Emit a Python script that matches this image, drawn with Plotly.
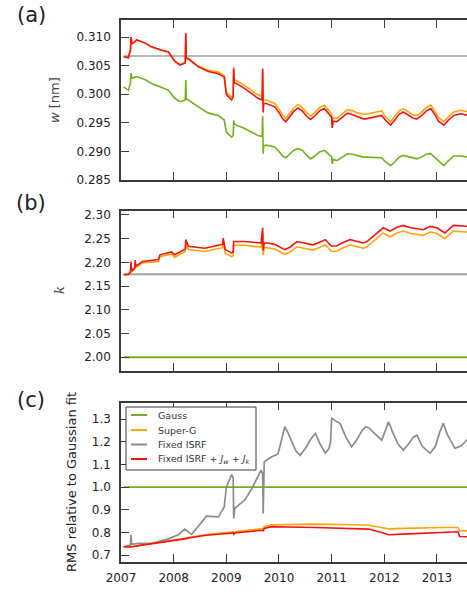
import plotly.graph_objects as go

# ---------------- data ----------------
year_ticks = [2007, 2008, 2009, 2010, 2011, 2012, 2013]

# panel (a): width w [nm]
years_a = [2007.05, 2007.14, 2007.18, 2007.19, 2007.21, 2007.30, 2007.45, 2007.58, 2007.74, 2007.90,
           2008.02, 2008.12, 2008.22, 2008.23, 2008.24, 2008.28, 2008.47, 2008.66, 2008.85, 2008.96,
           2009.00, 2009.10, 2009.13, 2009.14, 2009.15, 2009.19, 2009.35, 2009.60, 2009.68, 2009.69,
           2009.70, 2009.71, 2009.76, 2009.92, 2010.00, 2010.07, 2010.13, 2010.20, 2010.28, 2010.36,
           2010.44, 2010.52, 2010.60, 2010.68, 2010.77, 2010.86, 2010.94, 2011.00, 2011.01, 2011.03,
           2011.10, 2011.20, 2011.30, 2011.40, 2011.50, 2011.60, 2011.65, 2011.95, 2012.02, 2012.12,
           2012.20, 2012.28, 2012.36, 2012.45, 2012.55, 2012.62, 2012.70, 2012.80, 2012.88, 2012.95,
           2013.03, 2013.13, 2013.22, 2013.32, 2013.45, 2013.60]
w_fixed_j = [0.3066, 0.3064, 0.3078, 0.3100, 0.3088, 0.3095, 0.3090, 0.3083, 0.3078, 0.3074,
             0.3058, 0.3051, 0.3055, 0.3107, 0.3063, 0.3062, 0.3048, 0.3040, 0.3036, 0.3030,
             0.3000, 0.2990, 0.2995, 0.3045, 0.3020, 0.3019, 0.3010, 0.2993, 0.2990, 0.3045,
             0.2968, 0.2984, 0.2984, 0.2978, 0.2968, 0.2957, 0.2952, 0.2960, 0.2970, 0.2976,
             0.2971, 0.2962, 0.2956, 0.2962, 0.2971, 0.2975, 0.2966, 0.2960, 0.2941, 0.2953,
             0.2952, 0.2960, 0.2967, 0.2964, 0.2960, 0.2957, 0.2957, 0.2963, 0.2955, 0.2946,
             0.2955, 0.2965, 0.2969, 0.2964, 0.2958, 0.2957, 0.2962, 0.2971, 0.2975, 0.2966,
             0.2953, 0.2946, 0.2955, 0.2963, 0.2966, 0.2963]
w_superg = [0.3066, 0.3064, 0.3078, 0.3100, 0.3088, 0.3095, 0.3090, 0.3083, 0.3078, 0.3074,
            0.3058, 0.3052, 0.3056, 0.3106, 0.3064, 0.3063, 0.3049, 0.3042, 0.3039, 0.3033,
            0.3004, 0.2995, 0.3000, 0.3048, 0.3025, 0.3024, 0.3015, 0.2999, 0.2996, 0.3040,
            0.2975, 0.2990, 0.2990, 0.2984, 0.2974, 0.2963, 0.2958, 0.2966, 0.2976, 0.2982,
            0.2977, 0.2968, 0.2962, 0.2968, 0.2977, 0.2981, 0.2972, 0.2966, 0.2950, 0.2959,
            0.2958, 0.2966, 0.2973, 0.2971, 0.2967, 0.2965, 0.2965, 0.2971, 0.2961, 0.2952,
            0.2961, 0.2971, 0.2975, 0.2970, 0.2964, 0.2963, 0.2968, 0.2977, 0.2981, 0.2972,
            0.2959, 0.2952, 0.2961, 0.2969, 0.2972, 0.2969]
w_gauss = [0.3013, 0.3007, 0.3020, 0.3037, 0.3028, 0.3031, 0.3026, 0.3019, 0.3013, 0.3007,
           0.2993, 0.2987, 0.2990, 0.3025, 0.2992, 0.2990, 0.2978, 0.2967, 0.2963, 0.2955,
           0.2934, 0.2925, 0.2928, 0.2954, 0.2948, 0.2946, 0.2940, 0.2928, 0.2926, 0.2962,
           0.2896, 0.2910, 0.2911, 0.2908, 0.2900, 0.2892, 0.2889, 0.2895, 0.2902, 0.2905,
           0.2902, 0.2894, 0.2887, 0.2892, 0.2899, 0.2902, 0.2896, 0.2891, 0.2878, 0.2886,
           0.2884, 0.2890, 0.2896, 0.2895, 0.2892, 0.2890, 0.2890, 0.2889, 0.2882, 0.2875,
           0.2882, 0.2890, 0.2893, 0.2891, 0.2888, 0.2887, 0.2890, 0.2895, 0.2896, 0.2890,
           0.2883, 0.2875, 0.2884, 0.2892, 0.2892, 0.2890]
w_fixed_years = [2007.05, 2013.60]
w_fixed = [0.3067, 0.3067]

# panel (b): shape parameter k
years_b = [2007.05, 2007.14, 2007.18, 2007.19, 2007.20, 2007.26, 2007.27, 2007.28, 2007.41, 2007.71,
           2007.74, 2007.96, 2008.02, 2008.21, 2008.22, 2008.23, 2008.28, 2008.59, 2008.85, 2008.93,
           2008.94, 2008.98, 2009.10, 2009.13, 2009.14, 2009.35, 2009.66, 2009.69, 2009.70, 2009.72,
           2009.78, 2009.92, 2010.11, 2010.21, 2010.34, 2010.50, 2010.65, 2010.78, 2010.88, 2011.00,
           2011.10, 2011.22, 2011.35, 2011.60, 2011.67, 2011.98, 2012.11, 2012.24, 2012.36, 2012.50,
           2012.74, 2012.87, 2013.00, 2013.15, 2013.31, 2013.60]
k_fixed_j = [2.174, 2.175, 2.180, 2.202, 2.182, 2.188, 2.205, 2.192, 2.202, 2.206,
             2.216, 2.222, 2.216, 2.227, 2.228, 2.248, 2.234, 2.230, 2.237, 2.238,
             2.251, 2.227, 2.220, 2.222, 2.244, 2.244, 2.241, 2.273, 2.225, 2.241,
             2.241, 2.238, 2.227, 2.232, 2.244, 2.241, 2.237, 2.243, 2.248, 2.234,
             2.235, 2.242, 2.248, 2.241, 2.244, 2.273, 2.266, 2.274, 2.278, 2.273,
             2.269, 2.276, 2.273, 2.262, 2.278, 2.276]
k_superg = [2.174, 2.174, 2.178, 2.198, 2.180, 2.186, 2.200, 2.189, 2.199, 2.202,
            2.212, 2.218, 2.211, 2.222, 2.223, 2.240, 2.227, 2.223, 2.230, 2.231,
            2.243, 2.219, 2.212, 2.214, 2.236, 2.236, 2.232, 2.262, 2.216, 2.231,
            2.231, 2.228, 2.217, 2.222, 2.233, 2.230, 2.226, 2.232, 2.237, 2.223,
            2.224, 2.231, 2.237, 2.230, 2.233, 2.262, 2.254, 2.262, 2.266, 2.261,
            2.257, 2.264, 2.261, 2.250, 2.266, 2.264]
k_const_years = [2007.05, 2013.60]
k_fixed = [2.175, 2.175]
k_gauss = [2.0, 2.0]

# panel (c): RMS relative to Gaussian fit
years_c = [2007.05, 2007.18, 2007.19, 2007.20, 2007.33, 2007.58, 2007.90, 2008.09, 2008.21, 2008.34,
           2008.53, 2008.62, 2008.85, 2008.96, 2009.00, 2009.10, 2009.13, 2009.14, 2009.16, 2009.19,
           2009.35, 2009.47, 2009.66, 2009.69, 2009.70, 2009.72, 2009.86, 2009.98, 2010.11, 2010.23,
           2010.40, 2010.69, 2010.88, 2011.00, 2011.16, 2011.38, 2011.65, 2011.70, 2011.95, 2012.08,
           2012.36, 2012.62, 2012.87, 2013.12, 2013.34, 2013.40, 2013.43, 2013.60]
rms_fixed_j = [0.737, 0.735, 0.738, 0.736, 0.742, 0.750, 0.762, 0.768, 0.772, 0.778,
               0.785, 0.788, 0.792, 0.795, 0.796, 0.798, 0.798, 0.792, 0.797, 0.799,
               0.803, 0.806, 0.810, 0.810, 0.806, 0.818, 0.826, 0.826, 0.825, 0.824,
               0.823, 0.822, 0.821, 0.821, 0.820, 0.818, 0.816, 0.815, 0.800, 0.790,
               0.793, 0.795, 0.797, 0.800, 0.803, 0.803, 0.782, 0.781]
rms_superg = [0.737, 0.736, 0.739, 0.737, 0.743, 0.751, 0.763, 0.770, 0.774, 0.780,
              0.788, 0.791, 0.796, 0.799, 0.800, 0.803, 0.803, 0.798, 0.802, 0.804,
              0.809, 0.812, 0.817, 0.817, 0.813, 0.826, 0.834, 0.835, 0.835, 0.836,
              0.836, 0.837, 0.837, 0.836, 0.835, 0.834, 0.833, 0.832, 0.822, 0.816,
              0.818, 0.820, 0.821, 0.822, 0.822, 0.822, 0.808, 0.807]
years_c_fixed = [2007.05, 2007.18, 2007.19, 2007.20, 2007.33, 2007.58, 2007.90, 2008.09, 2008.21, 2008.34,
                 2008.53, 2008.62, 2008.85, 2008.96, 2009.00, 2009.10, 2009.13, 2009.14, 2009.16, 2009.19,
                 2009.35, 2009.47, 2009.66, 2009.69, 2009.70, 2009.72, 2009.86, 2009.98, 2010.04, 2010.11,
                 2010.17, 2010.23, 2010.32, 2010.40, 2010.50, 2010.60, 2010.69, 2010.78, 2010.88, 2010.95,
                 2010.98, 2011.00, 2011.08, 2011.16, 2011.27, 2011.38, 2011.48, 2011.58, 2011.65, 2011.70,
                 2011.95, 2012.02, 2012.08, 2012.16, 2012.26, 2012.36, 2012.46, 2012.55, 2012.62, 2012.72,
                 2012.87, 2012.97, 2013.05, 2013.12, 2013.20, 2013.34, 2013.45, 2013.60]
rms_fixed = [0.737, 0.745, 0.790, 0.748, 0.752, 0.752, 0.772, 0.790, 0.815, 0.792,
             0.845, 0.872, 0.869, 0.913, 1.000, 1.055, 1.040, 0.862, 0.905, 0.913,
             0.943, 0.987, 1.075, 1.060, 0.884, 1.112, 1.134, 1.145, 1.200, 1.266,
             1.240, 1.205, 1.160, 1.140, 1.170, 1.210, 1.237, 1.190, 1.150, 1.170,
             1.200, 1.305, 1.290, 1.281, 1.220, 1.178, 1.210, 1.250, 1.266, 1.262,
             1.207, 1.250, 1.288, 1.240, 1.190, 1.163, 1.190, 1.220, 1.229, 1.180,
             1.149, 1.180, 1.240, 1.281, 1.230, 1.171, 1.180, 1.215]
rms_const_years = [2007.05, 2013.60]
rms_gauss = [1.0, 1.0]

legend_names = ["Gauss", "Super-G", "Fixed ISRF",
                "Fixed ISRF + <i>J<sub>w</sub></i> + <i>J<sub>k</sub></i>"]

# ---------------- styling ----------------
C_GAUSS = "#72b01d"
C_SUPERG = "#ffa50a"
C_FIXED = "#8c8c8c"
C_FIXEDJ = "#f41414"
C_CONST = "#a0a0a0"
AXC = "#3a3a3a"

W, H = 467, 595
ML, MR, MT, MB = 121, 0, 20, 33
PW, PH = W - ML - MR, H - MT - MB


def px(x):
    return (x - ML) / PW


def py(y):
    return (H - MB - y) / PH


fig = go.Figure()


def line(x, y, color, xa, ya, width=1.6):
    fig.add_trace(go.Scatter(x=x, y=y, mode="lines", xaxis=xa, yaxis=ya,
                             line=dict(color=color, width=width), showlegend=False,
                             hoverinfo="skip"))


# (a)
line(w_fixed_years, w_fixed, C_CONST, "x", "y", 1.6)
line(years_a, w_gauss, C_GAUSS, "x", "y")
line(years_a, w_superg, C_SUPERG, "x", "y")
line(years_a, w_fixed_j, C_FIXEDJ, "x", "y")
# (b)
line(k_const_years, k_fixed, C_CONST, "x2", "y2", 1.8)
line(k_const_years, k_gauss, C_GAUSS, "x2", "y2", 1.8)
line(years_b, k_superg, C_SUPERG, "x2", "y2")
line(years_b, k_fixed_j, C_FIXEDJ, "x2", "y2")
# (c)
line(rms_const_years, rms_gauss, C_GAUSS, "x3", "y3", 1.6)
line(years_c_fixed, rms_fixed, C_FIXED, "x3", "y3", 1.7)
line(years_c, rms_superg, C_SUPERG, "x3", "y3")
line(years_c, rms_fixed_j, C_FIXEDJ, "x3", "y3")

xcommon = dict(range=[2007, 2013.57], tickmode="array", tickvals=year_ticks,
               showline=True, linecolor=AXC, linewidth=1.5, mirror="ticks",
               ticks="inside", ticklen=8, tickwidth=1.3, tickcolor=AXC,
               showgrid=False, zeroline=False)
ycommon = dict(showline=True, linecolor=AXC, linewidth=1.5, mirror=False,
               ticks="inside", ticklen=8, tickwidth=1.3, tickcolor=AXC,
               showgrid=False, zeroline=False, ticklabelstandoff=6,
               tickfont=dict(size=12, color="#222"))

dom_a = [py(180), py(20)]
dom_b = [py(371), py(210.7)]
dom_c = [0, py(402.7)]

fig.update_layout(
    width=W, height=H, margin=dict(l=ML, r=MR, t=MT, b=MB),
    paper_bgcolor="white", plot_bgcolor="white",
    font=dict(family="DejaVu Sans", size=12, color="#222"),
    showlegend=False,
    xaxis=dict(xcommon, domain=[0, 1], anchor="y", showticklabels=False),
    xaxis2=dict(xcommon, domain=[0, 1], anchor="y2", showticklabels=False),
    xaxis3=dict(xcommon, domain=[0, 1], anchor="y3", showticklabels=True,
                tickfont=dict(size=12, color="#222"), ticklabelstandoff=4),
    yaxis=dict(ycommon, domain=dom_a, anchor="x", range=[0.285, 0.313],
               tickvals=[0.285, 0.290, 0.295, 0.300, 0.305, 0.310], tickformat=".3f"),
    yaxis2=dict(ycommon, domain=dom_b, anchor="x2", range=[1.971, 2.309],
                tickvals=[2.00, 2.05, 2.10, 2.15, 2.20, 2.25, 2.30], tickformat=".2f"),
    yaxis3=dict(ycommon, domain=dom_c, anchor="x3", range=[0.670, 1.372],
                tickvals=[0.7, 0.8, 0.9, 1.0, 1.1, 1.2, 1.3], tickformat=".1f"),
)

ann = []
for lab, yy in [("(a)", 15), ("(b)", 203), ("(c)", 400)]:
    ann.append(dict(text=lab, x=px(31), y=py(yy), xref="paper", yref="paper",
                    showarrow=False, xanchor="center", yanchor="middle",
                    font=dict(size=21, color="#222")))
ann.append(dict(text="<i>w</i> [nm]",
                x=px(54), y=py(100), xref="paper", yref="paper", textangle=-90,
                showarrow=False, xanchor="center", yanchor="middle",
                font=dict(size=13, color="#444")))
ann.append(dict(text="<i>k</i>",
                x=px(59), y=py(290), xref="paper", yref="paper", textangle=-90,
                showarrow=False, xanchor="center", yanchor="middle",
                font=dict(size=13, color="#444", family="DejaVu Serif")))
ann.append(dict(text="RMS relative to Gaussian fit",
                x=px(71), y=py(482), xref="paper", yref="paper", textangle=-90,
                showarrow=False, xanchor="center", yanchor="middle",
                font=dict(size=13, color="#222")))

# legend drawn inside panel (c)
shapes = [dict(type="rect", xref="paper", yref="paper", x0=px(126), x1=px(256),
               y0=py(470), y1=py(407), line=dict(color=AXC, width=1), fillcolor="white",
               layer="above")]
leg_colors = [C_GAUSS, C_SUPERG, C_FIXED, C_FIXEDJ]
leg_y = [415, 430, 444.5, 459]
for name, col, yy in zip(legend_names, leg_colors, leg_y):
    shapes.append(dict(type="line", xref="paper", yref="paper", x0=px(131), x1=px(147),
                       y0=py(yy), y1=py(yy), line=dict(color=col, width=2), layer="above"))
    ann.append(dict(text=name, x=px(156), y=py(yy), xref="paper", yref="paper",
                    showarrow=False, xanchor="left", yanchor="middle",
                    font=dict(size=9.5, color="#333")))

fig.update_layout(annotations=ann, shapes=shapes)
fig.write_html("out.html")
